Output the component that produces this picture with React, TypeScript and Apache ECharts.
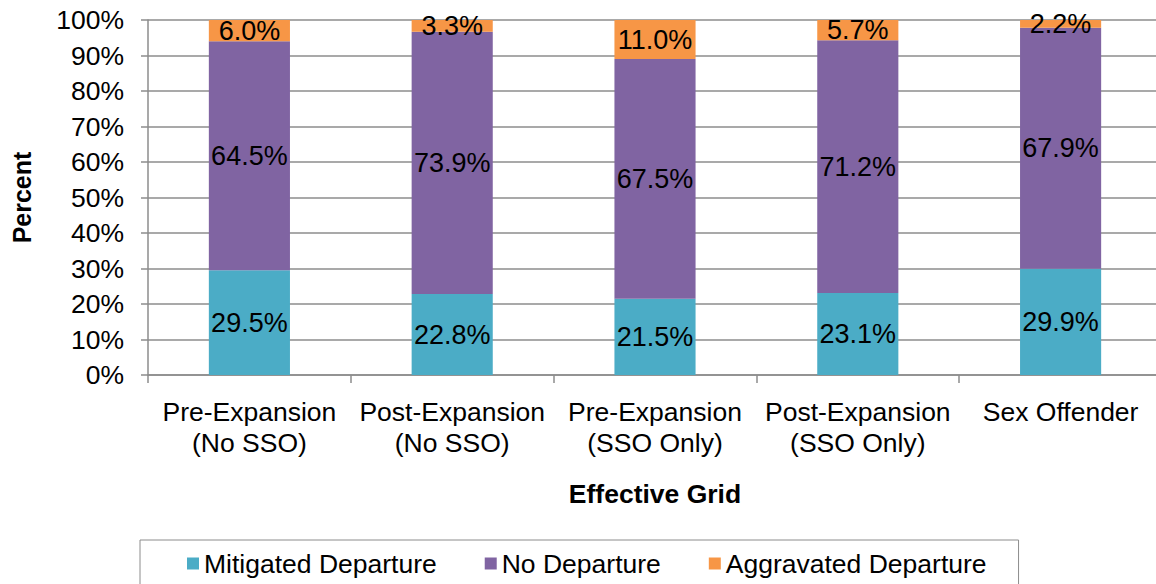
import React, { useEffect, useRef } from "react";
import * as echarts from "echarts";

const categories = [
  "Pre-Expansion\n(No SSO)",
  "Post-Expansion\n(No SSO)",
  "Pre-Expansion\n(SSO Only)",
  "Post-Expansion\n(SSO Only)",
  "Sex Offender",
];
const mitigated = [29.5, 22.8, 21.5, 23.1, 29.9];
const noDeparture = [64.5, 73.9, 67.5, 71.2, 67.9];
const aggravated = [6.0, 3.3, 11.0, 5.7, 2.2];
const seriesNames = ["Mitigated Departure", "No Departure", "Aggravated Departure"];
const colors = ["#4BACC6", "#8064A2", "#F79646"];

const FONT = "Liberation Sans, Arial, sans-serif";
const GRAY = "#8c8c8c";

export default function App() {
  const ref = useRef<HTMLDivElement>(null);
  useEffect(() => {
    if (!ref.current) return;
    const chart = echarts.init(ref.current, undefined, { renderer: "svg" });
    const values = [mitigated, noDeparture, aggravated];
    chart.setOption({
      animation: false,
      textStyle: { fontFamily: FONT },
      grid: { left: 148, right: 8, top: 20, bottom: 209, containLabel: false },
      legend: {
        bottom: -7,
        left: 140,
        data: seriesNames,
        icon: "rect",
        itemWidth: 12,
        itemHeight: 12,
        itemGap: 48,
        padding: [10, 32, 14, 47],
        borderColor: GRAY,
        borderWidth: 1,
        textStyle: { fontSize: 26.5, color: "#000", fontFamily: FONT },
      },
      xAxis: {
        type: "category",
        data: categories,
        name: "Effective Grid",
        nameLocation: "middle",
        nameGap: 105,
        nameTextStyle: { fontSize: 26.5, fontWeight: "bold", color: "#000", fontFamily: FONT },
        axisLine: { lineStyle: { color: GRAY, width: 1.5 } },
        axisTick: { show: true, length: 8, lineStyle: { color: GRAY, width: 1.5 } },
        axisLabel: { fontSize: 26.5, color: "#000", lineHeight: 31, margin: 21, interval: 0, fontFamily: FONT },
      },
      yAxis: {
        type: "value",
        min: 0,
        max: 100,
        interval: 10,
        name: "Percent",
        nameLocation: "middle",
        nameGap: 114,
        nameRotate: 90,
        nameTextStyle: { fontSize: 25, fontWeight: "bold", color: "#000", fontFamily: FONT },
        axisLine: { show: true, lineStyle: { color: GRAY, width: 1.5 } },
        axisTick: { show: true, length: 7, lineStyle: { color: GRAY, width: 1.5 } },
        axisLabel: { formatter: "{value}%", fontSize: 26.5, color: "#000", margin: 24, fontFamily: FONT },
        splitLine: { lineStyle: { color: GRAY, width: 1.5 } },
      },
      series: seriesNames.map((name, i) => ({
        name,
        type: "bar",
        stack: "total",
        barWidth: "40%",
        data: values[i],
        itemStyle: { color: colors[i] },
        label: {
          show: true,
          position: "inside",
          formatter: (p: any) => p.value.toFixed(1) + "%",
          fontSize: 27,
          color: "#000",
          fontFamily: FONT,
        },
      })),
    });
    return () => chart.dispose();
  }, []);
  return (
    <div
      ref={ref}
      style={{ position: "fixed", left: 0, top: 0, width: 1170, height: 584, background: "#fff" }}
    />
  );
}
